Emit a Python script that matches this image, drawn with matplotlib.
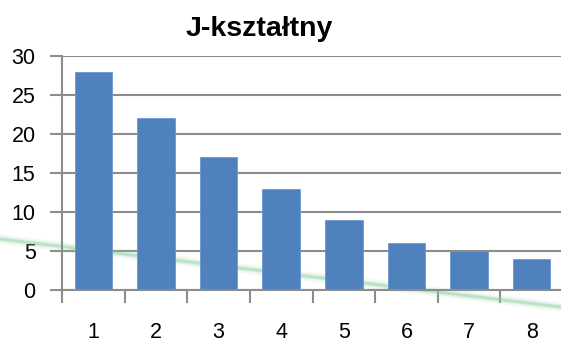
import matplotlib.pyplot as plt
import numpy as np

categories = ["1", "2", "3", "4", "5", "6", "7", "8"]
values = [28, 22, 17, 13, 9, 6, 5, 4]
y_ticks = [0, 5, 10, 15, 20, 25, 30]

plt.rcParams["font.family"] = ["Liberation Sans", "DejaVu Sans"]

fig = plt.figure(figsize=(5.61, 3.44), dpi=100)
ax = fig.add_axes([62 / 561, 1 - 290 / 344, 501 / 561, 234 / 344])

x = np.arange(len(categories)) + 0.5
ax.bar(x, values, width=0.6, color="#4f81bd", edgecolor="#6d97cc",
       linewidth=0.6, zorder=3)

ax.set_xlim(0, len(categories))
ax.set_ylim(0, 30)
ax.set_yticks(y_ticks)
ax.set_yticklabels([str(t) for t in y_ticks], fontsize=15.5)
ax.yaxis.grid(True, color="#8c8c8c", linewidth=1.5, zorder=1)
ax.set_axisbelow(True)

# category boundaries get the tick marks, labels sit in the middle
ax.set_xticks(np.arange(len(categories) + 1))
ax.set_xticklabels([])
ax.set_xticks(x, minor=True)
ax.set_xticklabels(categories, minor=True, fontsize=15.5)
ax.tick_params(axis="x", which="major", length=9, width=1.5, color="#8c8c8c")
ax.tick_params(axis="x", which="minor", length=0, pad=23)
ax.tick_params(axis="y", length=9, width=1.5, color="#8c8c8c", pad=10)

for side in ("top", "right"):
    ax.spines[side].set_visible(False)
for side in ("left", "bottom"):
    ax.spines[side].set_color("#8c8c8c")
    ax.spines[side].set_linewidth(1.5)
    ax.spines[side].set_zorder(4)

# faint green stroke running behind the bars
for lw, a in [(7, 0.1), (4, 0.2), (2, 0.45)]:
    ax.plot([0, 1], [1 - 239 / 344, 1 - 307 / 344], transform=fig.transFigure,
            color="#8fd0a0", linewidth=lw, alpha=a, clip_on=False,
            solid_capstyle="butt", zorder=2)

fig.text(259 / 561, 1 - 29 / 344, "J-kształtny", fontsize=20.5,
         fontweight="bold", ha="center", va="center")

fig.savefig("out.png", dpi=100)
